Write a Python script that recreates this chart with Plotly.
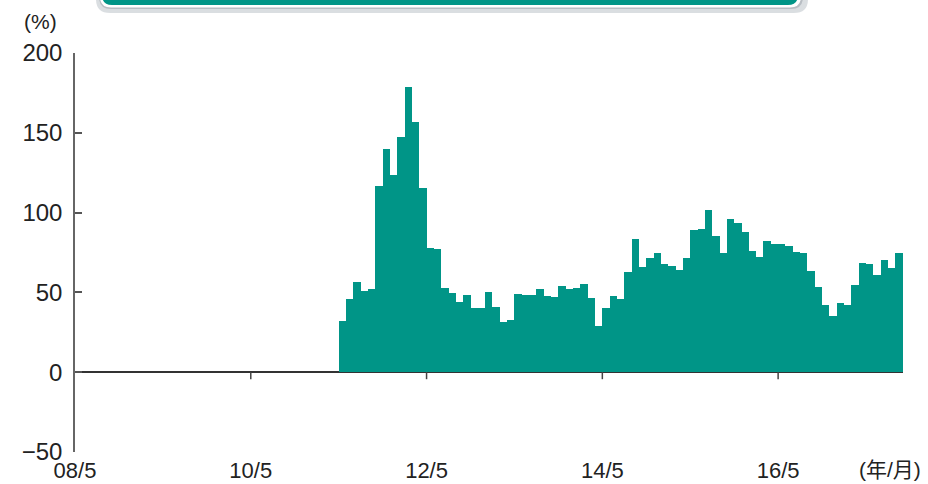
import plotly.graph_objects as go

# ---- data ----
start_label = "2008/05"          # x-axis origin (month index 0)
first_month = "2011/05"          # first bar month
values = [32, 45.6, 56.7, 50.6, 51.9, 116.9, 140, 123.5, 147.3, 178.8,
          156.9, 115.2, 77.9, 77.1, 52.9, 49.8, 44, 48.1, 40.2, 40.2,
          50.2, 40.6, 31.5, 32.9, 49, 48.1, 48.1, 51.9, 47.5, 47.3,
          54.2, 52.3, 52.5, 55.4, 46.7, 29.2, 40, 47.9, 45.6, 62.9,
          83.3, 66, 71.7, 74.8, 67.5, 66.7, 63.8, 71.3, 89.2, 89.8,
          101.7, 85.4, 74.8, 95.8, 93.5, 87.7, 76, 72.1, 81.9, 80.6,
          80.2, 78.8, 75.2, 74.4, 63.5, 53.5, 42.1, 35, 43.5, 41.9,
          54.4, 68.3, 67.7, 60.6, 70.4, 65.4, 74.4]
tick_labels = ["08/5", "10/5", "12/5", "14/5", "16/5"]
tick_months = ["2008/05", "2010/05", "2012/05", "2014/05", "2016/05"]
y_ticks = [-50, 0, 50, 100, 150, 200]


def month_index(s):
    y, m = s.split("/")
    y0, m0 = start_label.split("/")
    return (int(y) - int(y0)) * 12 + (int(m) - int(m0))


fi = month_index(first_month)
months_x = [fi + i for i in range(len(values))]
tick_x = [month_index(s) for s in tick_months]

BAR = "#009587"
FONT = "Liberation Sans, Arial, Noto Sans CJK JP, sans-serif"

fig = go.Figure()
fig.add_trace(go.Bar(x=months_x, y=values, width=1, offset=0,
                     marker=dict(color=BAR, line=dict(width=0))))

shapes = []
# x tick marks hanging below the zero line
for tx in tick_x[1:]:
    shapes.append(dict(type="line", xref="x", yref="y", x0=tx, x1=tx,
                       ysizemode="pixel", yanchor=0, y0=0, y1=-7,
                       line=dict(color="#444", width=1.5)))


# header banner (cut off at the top)
def rrect(x0, x1, y0, y1, rx, ry):
    return (f"M{x0},{y1} L{x0},{y0+ry} Q{x0},{y0} {x0+rx},{y0} "
            f"L{x1-rx},{y0} Q{x1},{y0} {x1},{y0+ry} L{x1},{y1} Z")

W, H, L, T = 828.0, 399.0, 75.0, 53.0
px = lambda x: (x - L) / W
py = lambda y: (T + H - y) / H

shapes.append(dict(type="path", xref="paper", yref="paper", layer="above",
                   path=rrect(px(96), px(808), py(13), py(-30), 14 / W, 14 / H),
                   fillcolor="rgba(150,160,170,0.35)", line=dict(width=0)))
shapes.append(dict(type="path", xref="paper", yref="paper", layer="above",
                   path=rrect(px(99), px(803), py(9), py(-30), 12 / W, 12 / H),
                   fillcolor="rgba(120,130,140,0.35)", line=dict(width=0)))
shapes.append(dict(type="path", xref="paper", yref="paper", layer="above",
                   path=rrect(px(100), px(801), py(7.5), py(-30), 11 / W, 11 / H),
                   fillcolor="white", line=dict(width=0)))
shapes.append(dict(type="path", xref="paper", yref="paper", layer="above",
                   path=rrect(px(102), px(798), py(5), py(-30), 10 / W, 10 / H),
                   fillcolor=BAR, line=dict(width=0)))

fig.update_layout(
    width=928, height=484,
    margin=dict(l=75, r=25, t=53, b=32),
    paper_bgcolor="white", plot_bgcolor="white",
    showlegend=False, bargap=0,
    font=dict(family=FONT, size=22, color="#222"),
    shapes=shapes,
    xaxis=dict(range=[0, 113.05], tickvals=tick_x, ticktext=tick_labels,
               showgrid=False, zeroline=False, showline=False, ticks="",
               tickfont=dict(size=22), ticklabelstandoff=3, automargin=False),
    yaxis=dict(range=[-50, 200], tickvals=y_ticks, showgrid=False,
               zeroline=True, zerolinecolor="#333", zerolinewidth=1.5,
               showline=True, linecolor="#666", linewidth=1.5,
               ticks="inside", ticklen=7, tickcolor="#555", tickwidth=1.5,
               tickfont=dict(size=24), ticklabelstandoff=6, automargin=False),
    annotations=[
        dict(text="(%)", xref="paper", yref="paper", x=px(40), y=py(21),
             showarrow=False, font=dict(size=21), xanchor="center", yanchor="middle"),
        dict(text="(年/月)", xref="paper", yref="paper", x=px(890), y=py(470),
             showarrow=False, font=dict(size=21), xanchor="center", yanchor="middle"),
    ],
)

fig.write_html("out.html", config={"displayModeBar": False},
               post_script="document.body.style.margin='0';document.body.style.overflow='hidden';")
